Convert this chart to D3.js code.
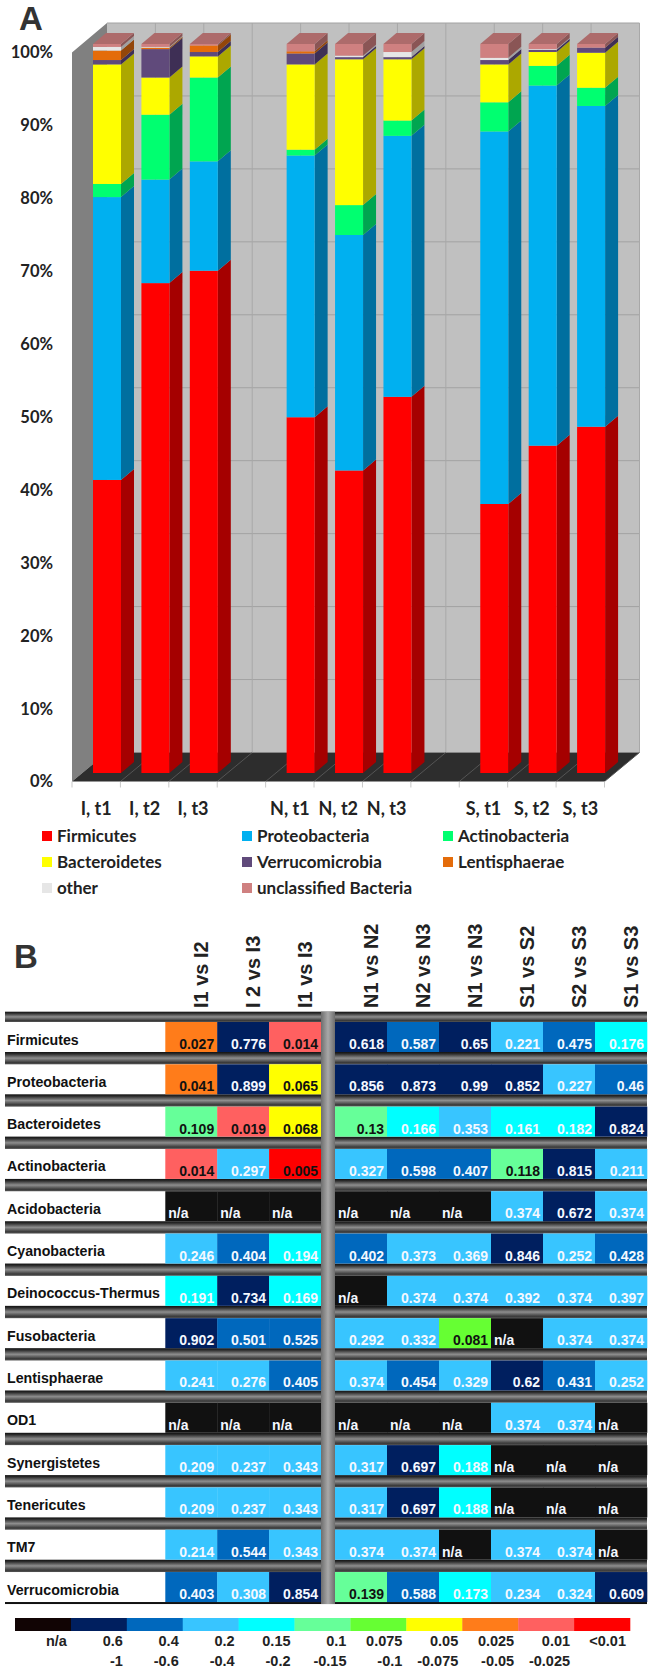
<!DOCTYPE html>
<html><head><meta charset="utf-8">
<script src="https://cdnjs.cloudflare.com/ajax/libs/d3/7.8.5/d3.min.js"></script>
<style>html,body{margin:0;padding:0;background:#fff}svg{display:block}</style>
</head><body><svg id="c" width="652" height="1673"></svg>
<script>
// ---------- Panel A data ----------
const samples = ["I, t1","I, t2","I, t3"," ","N, t1","N, t2","N, t3","  ","S, t1","S, t2","S, t3"];
const barSamples = samples.filter(s => s.trim());
const firmicutes      = [40.2,67.2,68.9,48.8,41.5,51.6,36.9,44.9,47.5];
const proteobacteria  = [38.8,14.2,15.0,35.9,32.3,35.8,51.1,49.4,44.0];
const actinobacteria  = [1.8,8.9,11.5,0.8,4.1,2.1,4.0,2.7,2.5];
const bacteroidetes   = [16.4,5.1,2.9,11.7,20.0,8.4,5.2,1.9,4.8];
const verrucomicrobia = [0.6,3.9,0.6,1.5,0.3,0.3,0.6,0.3,0.7];
const lentisphaerae   = [1.3,0.2,0.9,0.3,0,0,0,0,0];
const other           = [0.5,0.1,0,0,0.2,0.7,0.3,0.1,0];
const unclassified    = [0.4,0.4,0.2,1.0,1.6,1.1,1.9,0.8,0.5];
const seriesNames = ["Firmicutes","Proteobacteria","Actinobacteria","Bacteroidetes","Verrucomicrobia","Lentisphaerae","other","unclassified Bacteria"];
const seriesValues = [firmicutes,proteobacteria,actinobacteria,bacteroidetes,verrucomicrobia,lentisphaerae,other,unclassified];
const seriesFront = ["#ff0000","#00b0f0","#00ff70","#ffff00","#604a7b","#e46c0a","#e6e6e6","#cf8080"];
const seriesSide  = ["#a50000","#006f9f","#00a550","#aca800","#3e2f55","#93460a","#a0a0a0","#8a5555"];
const pctTicks = [0,10,20,30,40,50,60,70,80,90,100];

// ---------- Panel B data ----------
const phyla = ["Firmicutes","Proteobacteria","Bacteroidetes","Actinobacteria","Acidobacteria","Cyanobacteria","Deinococcus-Thermus","Fusobacteria","Lentisphaerae","OD1","Synergistetes","Tenericutes","TM7","Verrucomicrobia"];
const leftCols  = ["I1 vs I2","I 2 vs I3","I1 vs I3"];
const rightCols = ["N1 vs N2","N2 vs N3","N1 vs N3","S1 vs S2","S2 vs S3","S1 vs S3"];
const pFirmicutes   = ["0.027","0.776","0.014","0.618","0.587","0.65","0.221","0.475","0.176"];
const pProteo       = ["0.041","0.899","0.065","0.856","0.873","0.99","0.852","0.227","0.46"];
const pBacteroid    = ["0.109","0.019","0.068","0.13","0.166","0.353","0.161","0.182","0.824"];
const pActino       = ["0.014","0.297","0.005","0.327","0.598","0.407","0.118","0.815","0.211"];
const pAcido        = [null,null,null,null,null,null,"0.374","0.672","0.374"];
const pCyano        = ["0.246","0.404","0.194","0.402","0.373","0.369","0.846","0.252","0.428"];
const pDeino        = ["0.191","0.734","0.169",null,"0.374","0.374","0.392","0.374","0.397"];
const pFuso         = ["0.902","0.501","0.525","0.292","0.332","0.081",null,"0.374","0.374"];
const pLenti        = ["0.241","0.276","0.405","0.374","0.454","0.329","0.62","0.431","0.252"];
const pOD1          = [null,null,null,null,null,null,"0.374","0.374",null];
const pSynerg       = ["0.209","0.237","0.343","0.317","0.697","0.188",null,null,null];
const pTeneri       = ["0.209","0.237","0.343","0.317","0.697","0.188",null,null,null];
const pTM7          = ["0.214","0.544","0.343","0.374","0.374",null,"0.374","0.374",null];
const pVerruco      = ["0.403","0.308","0.854","0.139","0.588","0.173","0.234","0.324","0.609"];
const pMatrix = [pFirmicutes,pProteo,pBacteroid,pActino,pAcido,pCyano,pDeino,pFuso,pLenti,pOD1,pSynerg,pTeneri,pTM7,pVerruco];
const thresholds = [0.01,0.025,0.05,0.075,0.1,0.15,0.2,0.4,0.6];
const binColors = ["#ff0000","#ff6060","#ff7c1a","#ffff00","#66ff33","#66ff99","#00ffff","#38c5ff","#0068bd","#001f5f"];
const naColor = "#111111";
const legendColors = ["#110404","#001f5f","#0068bd","#38c5ff","#00ffff","#66ff99","#66ff33","#ffff00","#ff7c1a","#ff6060","#ff0000"];
const legendUpper = ["n/a","0.6","0.4","0.2","0.15","0.1","0.075","0.05","0.025","0.01","<0.01"];
const legendLower = ["","-1","-0.6","-0.4","-0.2","-0.15","-0.1","-0.075","-0.05","-0.025",""];

// ---------- Drawing ----------
const svg = d3.select("#c");
const defs = svg.append("defs");
const LATO = "Lato, sans-serif", ARIAL = "'Liberation Sans', Arial, sans-serif";

// Panel A scales: the 3 planes of the pseudo-3D box
const xFront = d3.scaleBand().domain(samples).range([72,604.5]);
const yBar   = d3.scaleLinear().domain([0,100]).range([773,44]);
const yWall  = d3.scaleLinear().domain([0,100]).range([752.5,23]);
const yFront = d3.scaleLinear().domain([0,100]).range([781.5,52.5]);
const wallDx = 35, barDx = 13, barDy = 11, barGap = 21, barW = 28;
const poly = pts => "M" + pts.map(p => p.join(",")).join("L") + "Z";

const gA = svg.append("g");
const xL = xFront.range()[0], xR = xFront.range()[1];
gA.append("path").attr("d", poly([[xL+wallDx,yWall(100)],[xR+wallDx,yWall(100)],[xR+wallDx,yWall(0)],[xL+wallDx,yWall(0)]])).attr("fill","#c0c0c0");
gA.append("path").attr("d", poly([[xL,yFront(100)],[xL+wallDx,yWall(100)],[xL+wallDx,yWall(0)],[xL,yFront(0)]])).attr("fill","#808080");
gA.append("path").attr("d", poly([[xL,yFront(0)],[xL+wallDx,yWall(0)],[xR+wallDx,yWall(0)],[xR,yFront(0)]])).attr("fill","#2d2d2d");
gA.selectAll("line.h").data(pctTicks.slice(1)).join("line")
  .attr("x1",xL+wallDx).attr("x2",xR+wallDx).attr("y1",d=>yWall(d)).attr("y2",d=>yWall(d))
  .attr("stroke","#a2a2a2").attr("stroke-width",1);
const tickXs = samples.map(s => xFront(s)).concat([xR]);
tickXs.forEach((x,i) => {
  if (i>0) gA.append("line").attr("x1",x+wallDx).attr("x2",x+wallDx).attr("y1",yWall(100)).attr("y2",yWall(0)).attr("stroke","#a8a8a8");
  if (i>0) gA.append("line").attr("x1",x).attr("x2",x+wallDx).attr("y1",yFront(0)).attr("y2",yWall(0)).attr("stroke","#555");
  gA.append("line").attr("x1",x).attr("x2",x).attr("y1",yFront(0)).attr("y2",yFront(0)+6).attr("stroke","#c8c8c8");
});

barSamples.forEach((s,i) => {
  const x0 = xFront(s)+barGap, x1 = x0+barW;
  let acc = 0;
  seriesValues.forEach((vals,k) => {
    const v = vals[i]; if (!v) return;
    const y0 = yBar(acc), y1 = yBar(Math.min(100,acc+v)); acc += v;
    gA.append("path").attr("d",poly([[x1,y0],[x1+barDx,y0-barDy],[x1+barDx,y1-barDy],[x1,y1]])).attr("fill",seriesSide[k]);
    gA.append("rect").attr("x",x0).attr("y",y1).attr("width",barW).attr("height",y0-y1).attr("fill",seriesFront[k]);
  });
  const yt = yBar(100);
  gA.append("path").attr("d",poly([[x0,yt],[x1,yt],[x1+barDx,yt-barDy],[x0+barDx,yt-barDy]])).attr("fill","#ad6b6b");
});

gA.selectAll("text.y").data(pctTicks).join("text")
  .attr("x",53).attr("y",d=>yFront(d)).attr("dy","0.36em").attr("text-anchor","end")
  .attr("font-family",LATO).attr("font-weight",700).attr("font-size",16.5).attr("fill","#222")
  .text(d=>d+"%");
gA.selectAll("text.x").data(barSamples).join("text")
  .attr("x",d=>xFront(d)+xFront.bandwidth()/2).attr("y",815).attr("text-anchor","middle")
  .attr("font-family",LATO).attr("font-weight",700).attr("font-size",18).attr("fill","#222")
  .text(d=>d);

// legend A
const legX = [42,242,443], legY = [836,862,888];
seriesNames.forEach((n,i) => {
  const cx = legX[i%3], cy = legY[Math.floor(i/3)];
  gA.append("rect").attr("x",cx).attr("y",cy-5).attr("width",10).attr("height",10).attr("fill",seriesFront[i]);
  gA.append("text").attr("x",cx+15).attr("y",cy).attr("dy","0.36em")
    .attr("font-family",LATO).attr("font-weight",700).attr("font-size",17).attr("fill","#222").text(n);
});
svg.append("text").attr("x",19).attr("y",30).attr("font-family",ARIAL).attr("font-weight",700).attr("font-size",33).attr("fill","#333").text("A");
svg.append("text").attr("x",14).attr("y",968).attr("font-family",ARIAL).attr("font-weight",700).attr("font-size",33).attr("fill","#333").text("B");

// Panel B
const gStripe = defs.append("linearGradient").attr("id","stripe").attr("x1",0).attr("x2",0).attr("y1",0).attr("y2",1);
[[0,"#111"],[0.15,"#2c2c2c"],[0.5,"#8e8e8e"],[0.85,"#3a3a3a"],[1,"#555"]].forEach(s=>gStripe.append("stop").attr("offset",s[0]).attr("stop-color",s[1]));
const gSep = defs.append("linearGradient").attr("id","sep");
[[0,"#6e6e6e"],[0.5,"#a8a8a8"],[1,"#6e6e6e"]].forEach(s=>gSep.append("stop").attr("offset",s[0]).attr("stop-color",s[1]));

const gB = svg.append("g");
const rowTop = 1022, rowPitch = 42.31, rowH = 30, stripeH = rowPitch-rowH;
const yRow = d3.scaleBand().domain(phyla).range([rowTop,rowTop+rowPitch*phyla.length]);
const xLeft = d3.scaleBand().domain(leftCols).range([165.3,321]);
const xRight = d3.scaleBand().domain(rightCols).range([335,647]);
const xCol = c => leftCols.includes(c) ? xLeft(c) : xRight(c);
const colW = c => leftCols.includes(c) ? xLeft.bandwidth() : xRight.bandwidth();
const allCols = leftCols.concat(rightCols);
const color = d3.scaleThreshold().domain(thresholds).range(binColors);
const barL = 5, barR = 647;

gB.append("rect").attr("x",barL).attr("y",rowTop-stripeH+2).attr("width",barR-barL).attr("height",stripeH-2).attr("fill","url(#stripe)");
phyla.forEach((p,r) => {
  const y = yRow(p);
  if (r<phyla.length-1) gB.append("rect").attr("x",barL).attr("y",y+rowH).attr("width",barR-barL).attr("height",stripeH).attr("fill","url(#stripe)");
  else gB.append("rect").attr("x",barL).attr("y",y+rowH).attr("width",barR-barL).attr("height",2).attr("fill","#111");
  gB.append("text").attr("x",7).attr("y",y+22.5).attr("font-family",ARIAL).attr("font-weight",700).attr("font-size",14.2).attr("fill","#111").text(p);
  pMatrix[r].forEach((v,c) => {
    const col = allCols[c], cx = xCol(col), w = colW(col);
    gB.append("rect").attr("x",cx).attr("y",y).attr("width",w+0.3).attr("height",rowH).attr("fill", v===null ? naColor : color(+v));
    const dark = v!==null && +v < 0.15;
    gB.append("text").attr("x", v===null ? cx+3 : cx+w-3).attr("y",y+27)
      .attr("text-anchor", v===null ? "start":"end")
      .attr("font-family",ARIAL).attr("font-weight",700).attr("font-size",14)
      .attr("fill", dark ? "#111" : "#f4f8ff").text(v===null ? "n/a" : v);
  });
});
gB.append("rect").attr("x",321).attr("y",rowTop-stripeH+2).attr("width",14).attr("height",rowTop+rowPitch*13+rowH+2-(rowTop-stripeH+2)).attr("fill","url(#sep)");
allCols.forEach(c => {
  const cx = xCol(c)+colW(c)/2+17;
  gB.append("text").attr("transform",`translate(${cx},1008) rotate(-90)`)
    .attr("font-family",ARIAL).attr("font-weight",700).attr("font-size",20).attr("fill","#222").text(c);
});

// colour key
const xKey = d3.scaleBand().domain(d3.range(legendColors.length)).range([15,630]);
const gK = svg.append("g");
gK.selectAll("rect").data(legendColors).join("rect")
  .attr("x",(d,i)=>xKey(i)).attr("y",1618).attr("width",xKey.bandwidth()+0.3).attr("height",13).attr("fill",d=>d);
[[legendUpper,1646],[legendLower,1666]].forEach(([arr,y])=>{
  gK.selectAll(null).data(arr).join("text")
    .attr("x",(d,i)=>xKey(i)+xKey.bandwidth()-4).attr("y",y).attr("text-anchor","end")
    .attr("font-family",ARIAL).attr("font-weight",700).attr("font-size",14.5).attr("fill","#222").text(d=>d);
});
</script></body></html>
